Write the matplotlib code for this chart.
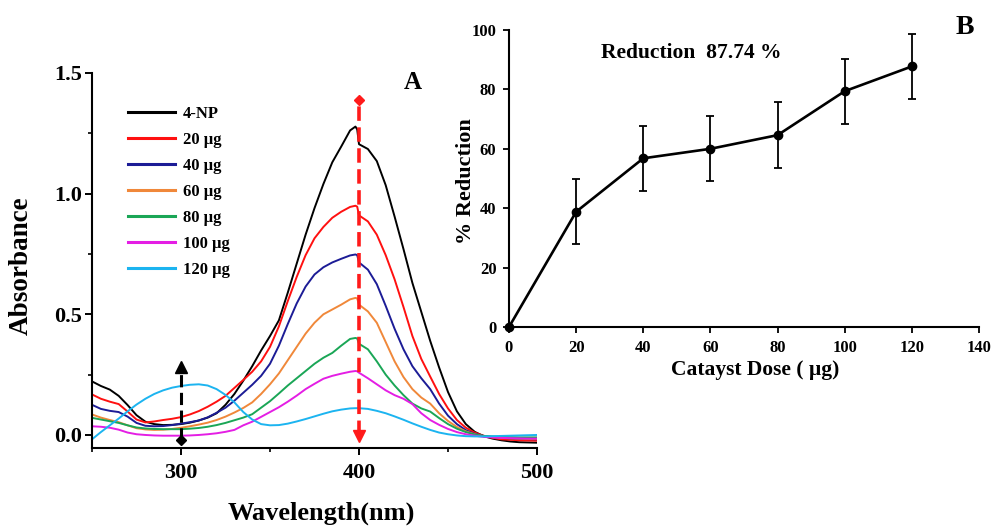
import numpy as np
import matplotlib
matplotlib.use("Agg")
import matplotlib.pyplot as plt
from matplotlib.ticker import MultipleLocator

plt.rcParams['font.family'] = ['Liberation Serif', 'DejaVu Serif']
plt.rcParams['font.weight'] = 'bold'

# ---- panel A: UV-vis spectra ----
wavelength = [250, 255, 260, 265, 270, 275, 280, 285, 290, 295, 300, 305, 310, 315, 320,
              325, 330, 335, 340, 345, 350, 355, 360, 365, 370, 375, 380, 385, 390, 395,
              398, 399, 400, 405, 410, 415, 420, 425, 430, 435, 440, 445, 450, 455, 460,
              465, 470, 475, 480, 485, 490, 495, 500]

abs_4np = [0.222, 0.203, 0.188, 0.162, 0.124, 0.082, 0.055, 0.045, 0.041, 0.042, 0.045, 0.051,
           0.060, 0.072, 0.090, 0.125, 0.170, 0.225, 0.285, 0.350, 0.410, 0.475, 0.590, 0.710,
           0.830, 0.940, 1.040, 1.130, 1.195, 1.262, 1.278, 1.266, 1.205, 1.185, 1.135, 1.035,
           0.905, 0.770, 0.630, 0.510, 0.390, 0.280, 0.178, 0.098, 0.045, 0.013, -0.005, -0.015,
           -0.022, -0.027, -0.030, -0.031, -0.032]
abs_20 = [0.168, 0.150, 0.138, 0.128, 0.097, 0.064, 0.052, 0.056, 0.062, 0.067, 0.074, 0.085,
          0.099, 0.117, 0.138, 0.162, 0.195, 0.228, 0.262, 0.305, 0.365, 0.450, 0.555, 0.655,
          0.745, 0.815, 0.862, 0.900, 0.925, 0.945, 0.950, 0.946, 0.910, 0.885, 0.830, 0.745,
          0.645, 0.530, 0.410, 0.315, 0.242, 0.170, 0.110, 0.062, 0.030, 0.010, -0.003, -0.012,
          -0.018, -0.020, -0.022, -0.023, -0.024]
abs_40 = [0.125, 0.108, 0.100, 0.095, 0.076, 0.050, 0.038, 0.036, 0.037, 0.041, 0.047, 0.053,
          0.060, 0.073, 0.092, 0.113, 0.142, 0.175, 0.208, 0.245, 0.295, 0.370, 0.460, 0.545,
          0.615, 0.665, 0.695, 0.715, 0.730, 0.744, 0.748, 0.745, 0.715, 0.685, 0.625, 0.535,
          0.440, 0.355, 0.285, 0.235, 0.190, 0.130, 0.080, 0.045, 0.020, 0.005, -0.004, -0.009,
          -0.012, -0.014, -0.016, -0.017, -0.018]
abs_60 = [0.085, 0.072, 0.062, 0.053, 0.040, 0.028, 0.023, 0.021, 0.022, 0.025, 0.030, 0.036,
          0.043, 0.051, 0.062, 0.076, 0.093, 0.112, 0.135, 0.170, 0.210, 0.255, 0.310, 0.365,
          0.420, 0.465, 0.500, 0.520, 0.540, 0.562, 0.568, 0.566, 0.540, 0.512, 0.465, 0.385,
          0.305, 0.240, 0.190, 0.155, 0.130, 0.090, 0.058, 0.033, 0.015, 0.003, -0.005, -0.009,
          -0.012, -0.014, -0.015, -0.016, -0.016]
abs_80 = [0.071, 0.064, 0.057, 0.050, 0.040, 0.031, 0.027, 0.025, 0.024, 0.024, 0.024, 0.026,
          0.029, 0.034, 0.041, 0.050, 0.061, 0.072, 0.086, 0.113, 0.140, 0.172, 0.205, 0.235,
          0.265, 0.295, 0.320, 0.340, 0.370, 0.398, 0.402, 0.400, 0.378, 0.355, 0.305, 0.250,
          0.205, 0.165, 0.130, 0.110, 0.097, 0.070, 0.045, 0.026, 0.012, 0.002, -0.004, -0.006,
          -0.008, -0.009, -0.010, -0.010, -0.010]
abs_100 = [0.036, 0.034, 0.030, 0.022, 0.010, 0.003, 0.000, -0.002, -0.003, -0.003, -0.003,
           -0.002, 0.000, 0.003, 0.007, 0.013, 0.021, 0.040, 0.055, 0.075, 0.095, 0.115, 0.138,
           0.163, 0.190, 0.212, 0.233, 0.245, 0.254, 0.262, 0.265, 0.264, 0.258, 0.235, 0.210,
           0.185, 0.165, 0.150, 0.128, 0.090, 0.062, 0.042, 0.025, 0.012, 0.003, -0.003, -0.008,
           -0.010, -0.012, -0.013, -0.014, -0.015, -0.015]
abs_120 = [-0.018, 0.012, 0.040, 0.068, 0.098, 0.126, 0.150, 0.170, 0.185, 0.196, 0.203, 0.208,
           0.210, 0.205, 0.190, 0.166, 0.135, 0.095, 0.064, 0.045, 0.040, 0.041, 0.047, 0.056,
           0.066, 0.077, 0.088, 0.098, 0.105, 0.110, 0.111, 0.111, 0.111, 0.108, 0.100, 0.090,
           0.077, 0.063, 0.048, 0.034, 0.021, 0.010, 0.003, -0.002, -0.005, -0.006, -0.006,
           -0.005, -0.004, -0.003, -0.002, -0.001, 0.000]

spectra = [abs_4np, abs_20, abs_40, abs_60, abs_80, abs_100, abs_120]
labels = ['4-NP', '20 µg', '40 µg', '60 µg', '80 µg', '100 µg', '120 µg']
colors = ['#000000', '#ff1010', '#1c1c96', '#f0883a', '#1aa656', '#e41ee4', '#1cb4f0']

# ---- panel B: % reduction vs dose ----
dose = [0, 20, 40, 60, 80, 100, 120]
reduction = [0, 38.8, 56.8, 60.0, 64.6, 79.4, 87.74]
red_err = [0, 11, 11, 11, 11, 11, 11]

fig = plt.figure(figsize=(9.92, 5.26), dpi=100)
axA = fig.add_axes([92/992, 78/526, 445/992, 375/526])
axB = fig.add_axes([509/992, 199/526, 470/992, 297/526])

for y, lab, c in zip(spectra, labels, colors):
    axA.plot(wavelength, y, color=c, lw=1.4, label=lab)

# dashed arrows
axA.plot([400, 400], [0.0, 1.39], color='#ff1a1a', lw=2.6, dashes=(4, 1.8))
axA.plot(400, 1.39, marker='D', color='#ff1a1a', ms=5.5)
axA.plot(400, -0.005, marker='v', color='#ff1a1a', ms=9)
axA.plot([300, 300], [-0.02, 0.27], color='black', lw=2.2, dashes=(4, 1.8))
axA.plot(300, -0.02, marker='D', color='black', ms=5)
axA.plot(300, 0.283, marker='^', color='black', ms=8)

axA.set_xlim(250, 500)
axA.set_ylim(-0.054, 1.5)
axA.set_xticks([300, 400, 500])
axA.xaxis.set_minor_locator(MultipleLocator(50))
axA.set_yticks([0.0, 0.5, 1.0, 1.5])
axA.yaxis.set_minor_locator(MultipleLocator(0.25))
axA.set_yticklabels(['0.0', '0.5', '1.0', '1.5'])
axA.tick_params(axis='both', which='major', direction='out', length=5, width=1.4, labelsize=16)
axA.tick_params(axis='x', which='major', pad=6)
axA.tick_params(axis='y', which='major', pad=2)
axA.tick_params(axis='both', which='minor', direction='out', length=3, width=1.2)
for s in ['top', 'right']:
    axA.spines[s].set_visible(False)
for s in ['left', 'bottom']:
    axA.spines[s].set_linewidth(1.5)
axA.set_xlabel('Wavelength(nm)', fontsize=19, fontweight='bold')
axA.set_ylabel('Absorbance', fontsize=19.5, fontweight='bold')
axA.xaxis.set_label_coords(0.515, -0.142)
axA.yaxis.set_label_coords(-0.131, 0.485)
axA.text(430, 1.46, 'A', fontsize=18, fontweight='bold', ha='center', va='center')
leg = axA.legend(loc='upper left', bbox_to_anchor=(0.082, 0.912), frameon=False,
                 fontsize=12, handlelength=2.8, handletextpad=0.45, labelspacing=0.6,
                 borderpad=0, borderaxespad=0)
for h in leg.get_lines():
    h.set_linewidth(2.2)

# panel B
axB.errorbar(dose[1:], reduction[1:], yerr=red_err[1:], fmt='none', ecolor='black',
             elinewidth=1.3, capsize=3, capthick=1.3)
axB.plot(dose, reduction, color='black', lw=1.9, marker='o', ms=6, clip_on=False)
axB.set_xlim(0, 140)
axB.set_ylim(0, 100)
axB.set_xticks(range(0, 141, 20))
axB.set_yticks(range(0, 101, 20))
axB.tick_params(axis='both', direction='out', length=4, width=1.3, labelsize=12, pad=5)
for s in ['top', 'right']:
    axB.spines[s].set_visible(False)
for s in ['left', 'bottom']:
    axB.spines[s].set_linewidth(1.5)
axB.set_xlabel('Catayst Dose ( µg)', fontsize=15.5, fontweight='bold')
axB.set_ylabel('% Reduction', fontsize=16, fontweight='bold')
axB.xaxis.set_label_coords(0.523, -0.112)
axB.yaxis.set_label_coords(-0.07, 0.49)
axB.text(54.2, 92.3, 'Reduction  87.74 %', fontsize=15.5, fontweight='bold',
         ha='center', va='center')
fig.text(965/992, 1 - 27/526, 'B', fontsize=20, fontweight='bold', ha='center', va='center')

fig.savefig('out.png', dpi=100)
